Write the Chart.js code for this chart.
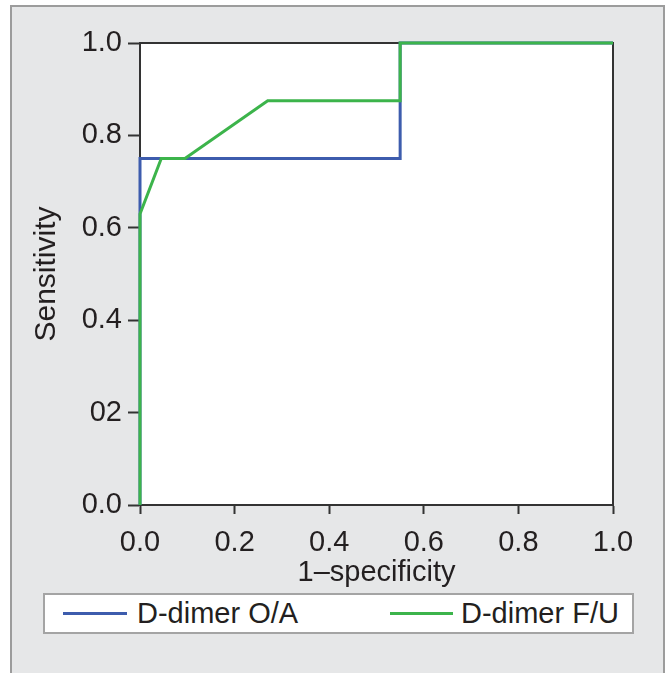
<!DOCTYPE html>
<html>
<head>
<meta charset="utf-8">
<script src="https://cdn.jsdelivr.net/npm/chart.js@4.4.1/dist/chart.umd.min.js"></script>
<style>
  html, body { margin: 0; padding: 0; background: #fff; }
  body { width: 665px; height: 673px; position: relative; overflow: hidden; font-family: "Liberation Sans", Arial, sans-serif; }
  #frame { position: absolute; left: 10px; top: 5px; width: 651px; height: 700px; background: #e6e7e8; border-top: 2px solid #9c9c9c; border-left: 2px solid #9c9c9c; border-right: 2px solid #9c9c9c; }
  #wrap { position: absolute; left: 0; top: 0; width: 665px; height: 590px; }
  #legend { position: absolute; left: 43px; top: 593px; width: 587px; height: 37px; background: #fff; border: 2px solid #a4a4a4; }
  .item { position: absolute; top: 0; height: 37px; line-height: 37px; font-size: 29px; color: #231f20; }
  .swatch { position: absolute; top: 17px; height: 3px; }
</style>
</head>
<body>
<div id="frame"></div>
<div id="wrap"><canvas id="rocChart"></canvas></div>
<div id="legend"></div>
<script>
// valores
var seriesNames = ['D-dimer O/A', 'D-dimer F/U'];
var oaX = [0, 0, 0.55, 0.55, 1];
var oaY = [0, 0.75, 0.75, 1, 1];
var fuX = [0, 0, 0.045, 0.095, 0.27, 0.55, 0.55, 1];
var fuY = [0, 0.63, 0.75, 0.75, 0.875, 0.875, 1, 1];
var xTickLabels = ['0.0', '0.2', '0.4', '0.6', '0.8', '1.0'];
var yTickLabels = ['0.0', '02', '0.4', '0.6', '0.8', '1.0'];

var colorOA = '#3d5cad';
var colorFU = '#3cb44b';
var colorText = '#231f20';
var colorAxis = '#333333';
var fontSize = 29;

function toPoints(xs, ys) {
    return xs.map(function (x, i) { return { x: x, y: ys[i] }; });
}

// fondo blanco y marco del area de trazado
var plotFrame = {
    id: 'plotFrame',
    beforeDraw: function (chart) {
        var a = chart.chartArea, ctx = chart.ctx;
        ctx.save();
        ctx.fillStyle = '#ffffff';
        ctx.fillRect(a.left, a.top, a.right - a.left, a.bottom - a.top);
        ctx.restore();
    },
    beforeDatasetsDraw: function (chart) {
        var a = chart.chartArea, ctx = chart.ctx;
        ctx.save();
        ctx.strokeStyle = colorAxis;
        ctx.lineWidth = 2;
        ctx.beginPath();
        ctx.moveTo(a.left, a.top);
        ctx.lineTo(a.right, a.top);
        ctx.lineTo(a.right, a.bottom);
        ctx.stroke();
        ctx.restore();
    }
};

Chart.defaults.font.family = '"Liberation Sans", Arial, sans-serif';
Chart.defaults.color = colorText;

var ctx = document.getElementById('rocChart').getContext('2d');
var rocChart = new Chart(ctx, {
    type: 'scatter',
    data: {
        datasets: [{
            label: seriesNames[0],
            data: toPoints(oaX, oaY),
            showLine: true,
            borderColor: colorOA,
            backgroundColor: colorOA,
            borderWidth: 3,
            pointRadius: 0,
            clip: false,
            order: 1
        }, {
            label: seriesNames[1],
            data: toPoints(fuX, fuY),
            showLine: true,
            borderColor: colorFU,
            backgroundColor: colorFU,
            borderWidth: 3,
            pointRadius: 0,
            clip: false,
            order: 0
        }]
    },
    options: {
        responsive: true,
        maintainAspectRatio: false,
        animation: false,
        layout: { padding: { top: 43, right: 52, left: 0, bottom: 0 } },
        plugins: {
            legend: { display: false },
            tooltip: { enabled: false }
        },
        scales: {
            x: {
                type: 'linear',
                min: 0, max: 1,
                afterFit: function (scale) { scale.height = 85; },
                ticks: {
                    stepSize: 0.2,
                    padding: 12,
                    font: { size: fontSize },
                    color: colorText,
                    callback: function (v, i) { return xTickLabels[i]; }
                },
                grid: { drawOnChartArea: false, drawTicks: true, tickLength: 9, tickWidth: 2, color: colorAxis },
                border: { display: true, color: colorAxis, width: 2 },
                title: { display: true, text: '1–specificity', font: { size: fontSize }, color: colorText, padding: { top: -6, bottom: 0 } }
            },
            y: {
                type: 'linear',
                min: 0, max: 1,
                afterFit: function (scale) { scale.width = 140; },
                ticks: {
                    stepSize: 0.2,
                    padding: 6,
                    font: { size: fontSize },
                    color: colorText,
                    callback: function (v, i) { return yTickLabels[i]; }
                },
                grid: { drawOnChartArea: false, drawTicks: true, tickLength: 12, tickWidth: 2, color: colorAxis },
                border: { display: true, color: colorAxis, width: 2 },
                title: { display: true, text: 'Sensitivity', font: { size: 30 }, color: colorText, padding: { top: 29, bottom: 0 } }
            }
        }
    },
    plugins: [plotFrame]
});

// leyenda con recuadro, como en la figura
var legend = document.getElementById('legend');
var legendPos = [[18, 64, 92], [345, 63, 416]];
rocChart.data.datasets.forEach(function (ds, i) {
    var sw = document.createElement('div');
    sw.className = 'swatch';
    sw.style.left = legendPos[i][0] + 'px';
    sw.style.width = legendPos[i][1] + 'px';
    sw.style.background = ds.borderColor;
    legend.appendChild(sw);
    var t = document.createElement('div');
    t.className = 'item';
    t.style.left = legendPos[i][2] + 'px';
    t.textContent = ds.label;
    legend.appendChild(t);
});
</script>
</body>
</html>
